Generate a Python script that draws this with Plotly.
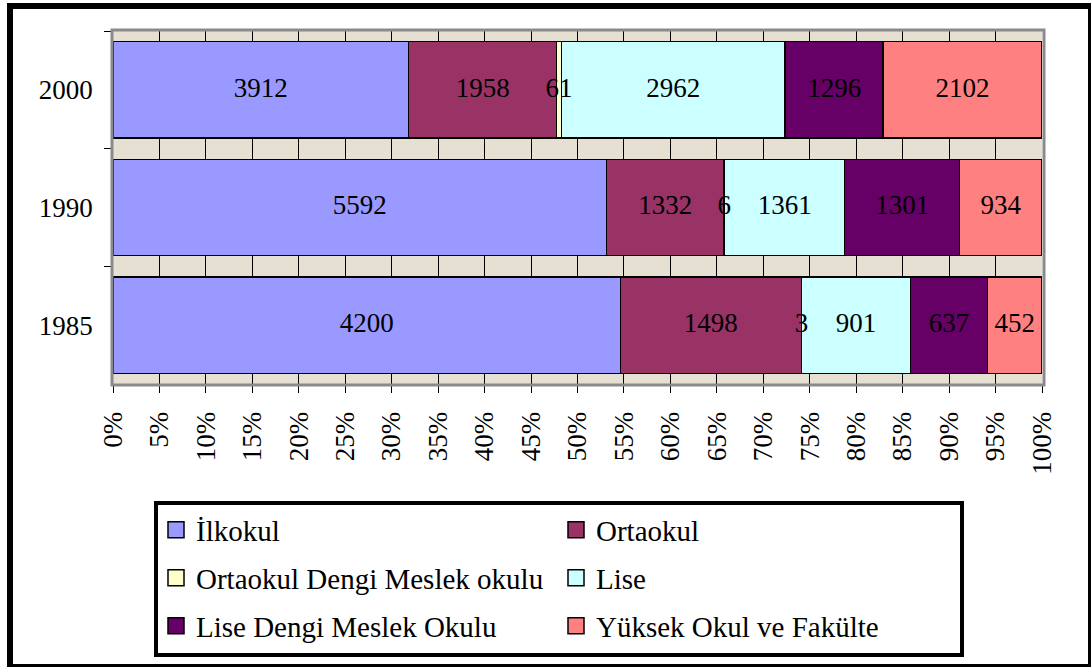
import plotly.graph_objects as go

W, H = 1092, 667

years = ["1985", "1990", "2000"]
series_names = [
    "İlkokul",
    "Ortaokul",
    "Ortaokul Dengi Meslek okulu",
    "Lise",
    "Lise Dengi Meslek Okulu",
    "Yüksek Okul ve Fakülte",
]
ilkokul = [4200, 5592, 3912]
ortaokul = [1498, 1332, 1958]
ortaokul_dengi = [3, 6, 61]
lise = [901, 1361, 2962]
lise_dengi = [637, 1301, 1296]
yuksek = [452, 934, 2102]
series_values = [ilkokul, ortaokul, ortaokul_dengi, lise, lise_dengi, yuksek]
colors = ["#9999FF", "#993366", "#FFFFCC", "#CCFFFF", "#660066", "#FF8080"]
legend_ids = ["legend", "legend", "legend2", "legend2", "legend3", "legend3"]
x_ticks = list(range(0, 101, 5))

FONT = "Liberation Serif, Times New Roman, serif"


def X(px):
    return px / W


def Y(py):
    return 1 - py / H


fig = go.Figure()

# stacked bars (100% normalised by plotly)
for name, vals, col in zip(series_names, series_values, colors):
    fig.add_trace(go.Bar(
        name=name,
        y=years,
        x=vals,
        orientation="h",
        marker=dict(color=col, line=dict(color="black", width=1.5)),
        showlegend=False,
        hoverinfo="skip",
    ))

# value labels drawn on top of all bars, centred in each segment
totals = [sum(s[i] for s in series_values) for i in range(len(years))]
cum = [0.0] * len(years)
lab_x, lab_y, lab_t = [], [], []
for vals in series_values:
    for i, v in enumerate(vals):
        pct = v / totals[i] * 100
        lab_x.append(cum[i] + pct / 2)
        lab_y.append(years[i])
        lab_t.append(str(v))
        cum[i] += pct
fig.add_trace(go.Scatter(
    x=lab_x, y=lab_y, text=lab_t, mode="text",
    textposition="middle center",
    textfont=dict(family=FONT, size=27, color="black"),
    showlegend=False, hoverinfo="skip", cliponaxis=False,
))

# legend entries
for name, col, lg in zip(series_names, colors, legend_ids):
    fig.add_trace(go.Scatter(
        name=name, x=[None], y=[None], mode="markers",
        marker=dict(symbol="square", size=16, color=col,
                    line=dict(color="black", width=1.5)),
        legend=lg, showlegend=True,
    ))

leg_common = dict(
    orientation="h",
    xanchor="left",
    yanchor="middle",
    entrywidth=355,
    font=dict(family=FONT, size=29, color="black"),
    bgcolor="rgba(0,0,0,0)",
    borderwidth=0,
    traceorder="normal",
)

shapes = [
    # plot area border (gray)
    dict(type="rect", xref="paper", yref="paper",
         x0=X(112), x1=X(1044), y0=Y(385), y1=Y(30),
         line=dict(color="#8A8A8A", width=3), layer="above"),
    # legend box
    dict(type="rect", xref="paper", yref="paper",
         x0=X(156), x1=X(962), y0=Y(655), y1=Y(503),
         line=dict(color="black", width=4)),
    # outer frame
    dict(type="rect", xref="paper", yref="paper", x0=X(7), x1=X(13), y0=Y(667), y1=Y(3),
         fillcolor="black", line=dict(width=0)),
    dict(type="rect", xref="paper", yref="paper", x0=X(7), x1=X(1091), y0=Y(9), y1=Y(3),
         fillcolor="black", line=dict(width=0)),
    dict(type="rect", xref="paper", yref="paper", x0=X(1088), x1=X(1091), y0=Y(667), y1=Y(3),
         fillcolor="black", line=dict(width=0)),
    dict(type="rect", xref="paper", yref="paper", x0=X(7), x1=X(1091), y0=Y(667), y1=Y(664),
         fillcolor="black", line=dict(width=0)),
]

fig.update_layout(
    template="none",
    width=W, height=H,
    autosize=False,
    margin=dict(l=0, r=0, t=0, b=0, pad=0, autoexpand=False),
    paper_bgcolor="white",
    plot_bgcolor="#E6E0D3",
    barmode="stack",
    barnorm="percent",
    bargap=0.18,
    font=dict(family=FONT, size=27, color="black"),
    showlegend=True,
    legend=dict(leg_common, x=X(156), y=Y(530)),
    legend2=dict(leg_common, x=X(156), y=Y(578)),
    legend3=dict(leg_common, x=X(156), y=Y(626)),
    shapes=shapes,
    xaxis=dict(
        domain=[X(113), X(1042)],
        range=[0, 100],
        automargin=False,
        tickmode="array",
        tickvals=x_ticks,
        ticktext=[f"{t}%" for t in x_ticks],
        tickangle=-90,
        ticks="outside",
        ticklen=8,
        tickcolor="black",
        tickwidth=1,
        showgrid=True,
        gridcolor="black",
        gridwidth=1,
        showline=True,
        linecolor="black",
        linewidth=1,
        zeroline=False,
        ticklabelstandoff=8,
        tickfont=dict(family=FONT, size=27, color="black"),
        fixedrange=True,
    ),
    yaxis=dict(
        domain=[Y(384), Y(31)],
        type="category",
        categoryorder="array",
        categoryarray=years,
        automargin=False,
        ticks="outside",
        tickson="boundaries",
        ticklen=7,
        tickcolor="black",
        showgrid=False,
        showline=True,
        linecolor="black",
        linewidth=1.5,
        zeroline=False,
        ticklabelstandoff=13,
        tickfont=dict(family=FONT, size=27, color="black"),
        fixedrange=True,
    ),
)

fig.write_html(
    "out.html",
    config={"displayModeBar": False},
    post_script="document.body.style.margin='0px';",
)
